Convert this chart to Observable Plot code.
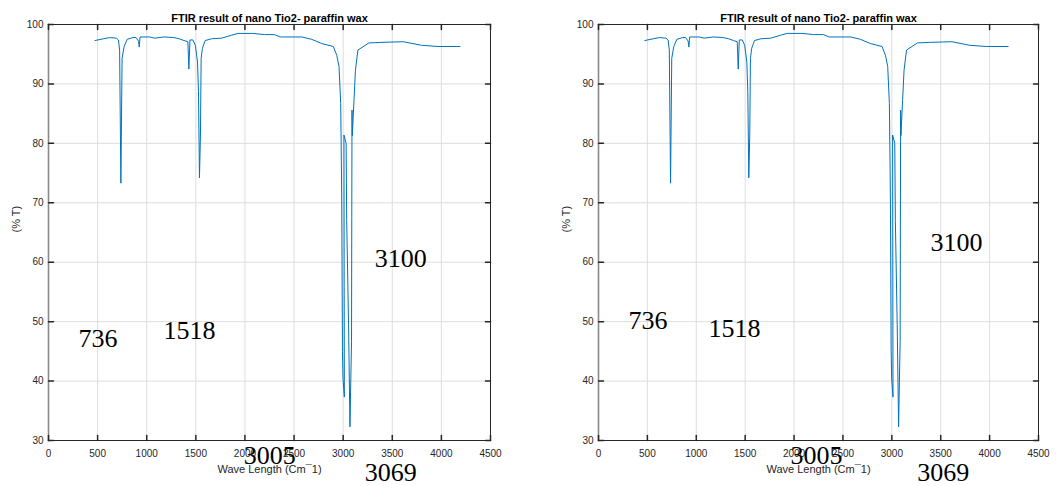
<!DOCTYPE html>
<html>
<head>
<meta charset="utf-8">
<script src="https://cdn.jsdelivr.net/npm/d3@7"></script>
<script src="https://cdn.jsdelivr.net/npm/@observablehq/plot@0.6"></script>
<style>
  html, body { margin: 0; padding: 0; background: #fff; }
  #wrap { display: flex; flex-direction: row; width: 1063px; height: 486px; }
</style>
</head>
<body>
<div id="wrap"></div>
<script>
// ---- data ----
const wavenumber = [473, 560, 624, 690, 712, 724, 737, 749, 770, 801, 860, 891, 917, 924, 932, 1030, 1080, 1174, 1276, 1330, 1380, 1419, 1429, 1440, 1470, 1495, 1517, 1527, 1537, 1547, 1554, 1567, 1595, 1661, 1762, 1863, 1930, 2080, 2200, 2300, 2360, 2580, 2680, 2780, 2900, 2935, 2958, 2975, 2985, 2993, 2998, 3012, 3008, 3030, 3036, 3055, 3069, 3085, 3090, 3093, 3110, 3125, 3150, 3262, 3396, 3614, 3798, 3965, 4189];
const transmittance = [97.3, 97.6, 97.8, 97.7, 97.4, 95.7, 73.3, 94.3, 96.3, 97.5, 97.8, 97.8, 97.2, 96.2, 97.9, 97.9, 97.7, 97.9, 97.8, 97.6, 97.3, 97.1, 92.5, 97.4, 97.4, 96.5, 93.7, 88.7, 74.2, 81.4, 94.3, 96.0, 97.3, 97.6, 97.7, 98.2, 98.5, 98.5, 98.3, 98.3, 97.9, 97.9, 97.5, 96.8, 96.3, 94.8, 92.9, 86.7, 71.5, 45, 40.5, 37.3, 81.4, 80.0, 67, 49.5, 32.3, 46.7, 85.6, 81.3, 87.2, 92.3, 95.7, 96.9, 97.0, 97.1, 96.5, 96.3, 96.3];

const xTicks = [0, 500, 1000, 1500, 2000, 2500, 3000, 3500, 4000, 4500];
const yTicks = [30, 40, 50, 60, 70, 80, 90, 100];

const titleText = "FTIR result of nano Tio2- paraffin wax";
const xLabelText = "Wave Length (Cm\u00AF1)";
const yLabelText = "(% T)";

const annLabels = ["736", "1518", "3100", "3005", "3069"];
const annXLeft = [305, 1171, 3322, 1988, 3220];
const annYLeft = [47.2, 48.4, 60.6, 27.4, 24.6];
const annXRight = [307, 1125, 3395, 1964, 3259];
const annYRight = [50.2, 48.9, 63.3, 27.4, 24.6];

// ---- build ----
const spectrum = wavenumber.map((w, i) => ({w, t: transmittance[i]}));
const tickShape = {draw(ctx, l) { ctx.moveTo(0, 0); ctx.lineTo(0, -l); }};
const ink = "#262626";

function panel(width, marginLeft, marginRight, annX, annY) {
  const ann = annLabels.map((s, i) => ({s, x: annX[i], y: annY[i]}));
  return Plot.plot({
    width, height: 486,
    marginLeft, marginRight, marginTop: 24, marginBottom: 46,
    style: {fontFamily: "'Liberation Sans', Arial, sans-serif", fontSize: "10px", background: "#fff", overflow: "visible"},
    x: {domain: [0, 4500]},
    y: {domain: [30, 100]},
    marks: [
      Plot.gridX(xTicks, {stroke: "#dedede", strokeOpacity: 1}),
      Plot.gridY(yTicks, {stroke: "#dedede", strokeOpacity: 1}),
      Plot.frame({stroke: ink, strokeWidth: 1}),
      Plot.frame({anchor: "left", stroke: "#8a8a8a", strokeWidth: 1.6}),
      Plot.vector(xTicks, {x: d => d, frameAnchor: "bottom", length: 5, rotate: 0, anchor: "start", shape: tickShape, stroke: ink}),
      Plot.vector(xTicks, {x: d => d, frameAnchor: "top", length: 5, rotate: 180, anchor: "start", shape: tickShape, stroke: ink}),
      Plot.vector(yTicks, {y: d => d, frameAnchor: "left", length: 5, rotate: 90, anchor: "start", shape: tickShape, stroke: ink}),
      Plot.vector(yTicks, {y: d => d, frameAnchor: "right", length: 5, rotate: -90, anchor: "start", shape: tickShape, stroke: ink}),
      Plot.axisX(xTicks, {tickSize: 0, tickPadding: 9, label: null, tickFormat: d => String(d), fill: ink, fontSize: 10}),
      Plot.axisY(yTicks, {tickSize: 0, tickPadding: 5, label: null, tickFormat: d => String(d), fill: ink, fontSize: 10}),
      Plot.line(spectrum, {x: "w", y: "t", stroke: "#0072BD", strokeWidth: 1}),
      Plot.text([titleText], {frameAnchor: "top", dy: -10, fontWeight: "bold", fontSize: 11, fill: "#000"}),
      Plot.text([xLabelText], {frameAnchor: "bottom", dy: 32, fontSize: 11, fill: ink}),
      Plot.text([yLabelText], {frameAnchor: "left", dx: -32, rotate: -90, fontSize: 11, fill: ink}),
      Plot.text(ann, {x: "x", y: "y", text: "s", textAnchor: "start", fontFamily: "'Liberation Serif', 'Times New Roman', serif", fontSize: 26, fill: "#000"})
    ]
  });
}

const wrap = document.getElementById("wrap");
wrap.appendChild(panel(530, 48, 40, annXLeft, annYLeft));
wrap.appendChild(panel(533, 68, 25, annXRight, annYRight));
</script>
</body>
</html>
